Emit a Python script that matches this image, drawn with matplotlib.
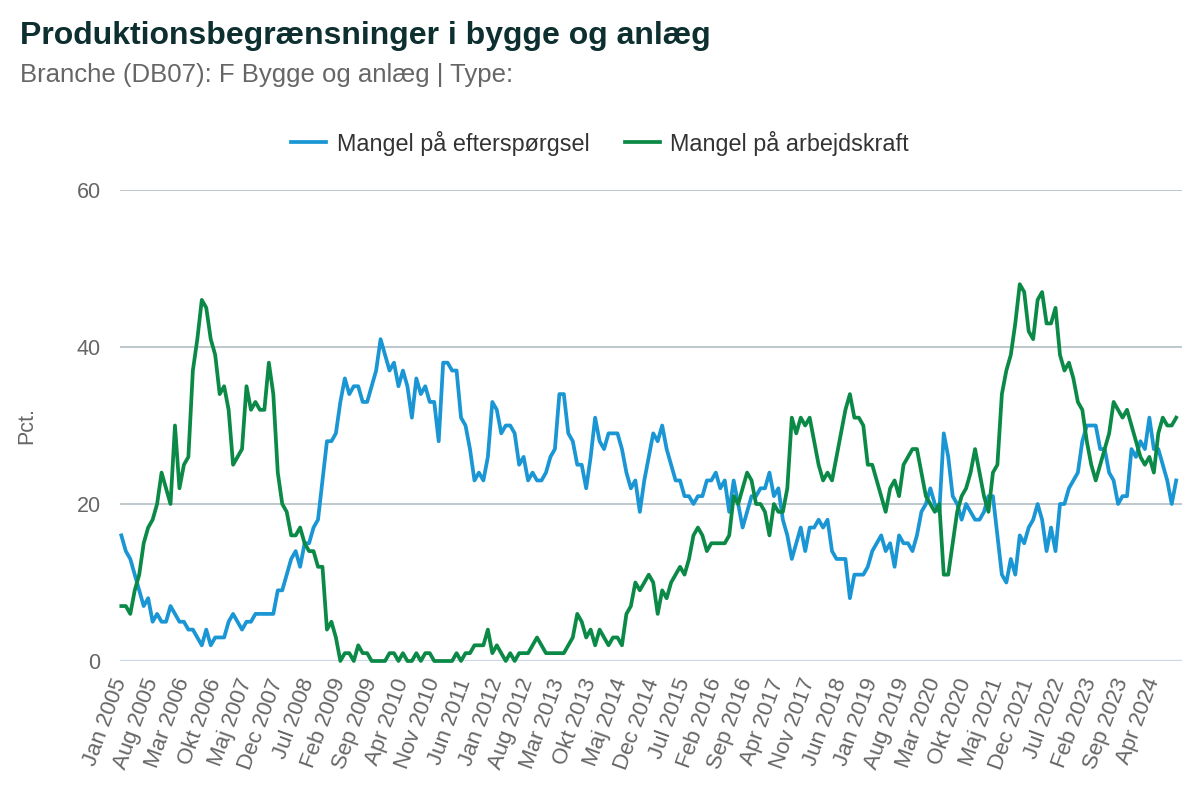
import numpy as np
import matplotlib
matplotlib.use("Agg")
import matplotlib.pyplot as plt

plt.rcParams["font.family"] = ["Liberation Sans", "DejaVu Sans"]

# monthly values, Jan 2005 - Sep 2024 (pct.)
mangel_eftersporgsel = [
    16, 14, 13, 11, 9, 7, 8, 5, 6, 5, 5, 7, 6, 5, 5, 4, 4, 3, 2, 4,
    2, 3, 3, 3, 5, 6, 5, 4, 5, 5, 6, 6, 6, 6, 6, 9, 9, 11, 13, 14,
    12, 15, 15, 17, 18, 23, 28, 28, 29, 33, 36, 34, 35, 35, 33, 33, 35, 37, 41, 39,
    37, 38, 35, 37, 35, 31, 36, 34, 35, 33, 33, 28, 38, 38, 37, 37, 31, 30, 27, 23,
    24,
    23, 26, 33, 32, 29, 30, 30, 29, 25, 26, 23, 24, 23, 23, 24, 26, 27, 34, 34, 29,
    28, 25, 25, 22, 26, 31, 28, 27, 29, 29, 29, 27, 24, 22, 23, 19, 23, 26, 29, 28,
    30, 27, 25, 23, 23, 21, 21, 20, 21, 21, 23, 23, 24, 22, 23, 19, 23, 20, 17, 19,
    21, 21, 22, 22, 24, 21, 22, 18, 16, 13, 15, 17, 14, 17, 17, 18, 17,
    18, 14, 13, 13, 13, 8, 11, 11, 11, 12, 14, 15, 16, 14, 15, 12, 16, 15, 15, 14,
    16, 19, 20, 22, 20, 19, 29, 26, 21, 20, 18, 20, 19, 18, 18, 19, 21, 21,
    16, 11, 10, 13, 11, 16, 15, 17, 18, 20, 18, 14, 17, 14, 20, 20, 22, 23, 24, 28,
    30, 30, 30, 27, 27, 24, 23, 20, 21, 21, 27, 26, 28, 27, 31, 27, 27, 25, 23, 20,
    23,
]
mangel_arbejdskraft = [
    7, 7, 6, 9, 11, 15, 17, 18, 20, 24, 22, 20, 30, 22, 25, 26, 37, 41, 46, 45,
    41, 39, 34, 35, 32, 25, 26, 27, 35, 32, 33, 32, 32, 38, 34, 24, 20, 19, 16, 16,
    17, 15, 14, 14, 12, 12, 4, 5, 3, 0, 1, 1, 0, 2, 1, 1, 0, 0, 0, 0,
    1, 1, 0, 1, 0, 0, 1, 0, 1, 1, 0, 0, 0, 0, 0, 1, 0, 1, 1, 2,
    2,
    2, 4, 1, 2, 1, 0, 1, 0, 1, 1, 1, 2, 3, 2, 1, 1, 1, 1, 1, 2,
    3, 6, 5, 3, 4, 2, 4, 3, 2, 3, 3, 2, 6, 7, 10, 9, 10, 11, 10, 6,
    9, 8, 10, 11, 12, 11, 13, 16, 17, 16, 14, 15, 15, 15, 15, 16, 21, 20, 22, 24,
    23, 20, 20, 19, 16, 20, 19, 19, 22, 31, 29, 31, 30, 31, 28, 25, 23, 24, 23, 26,
    29, 32, 34, 31, 31, 30, 25, 25, 23, 21, 19, 22, 23, 21, 25, 26, 27, 27, 24, 21,
    20, 19, 20, 11, 11, 15, 19, 21, 22, 24, 27, 24, 21, 19, 24,
    25, 34, 37, 39, 43, 48, 47, 42, 41, 46, 47, 43, 43, 45, 39, 37, 38, 36, 33, 32,
    28, 25, 23, 25, 27, 29, 33, 32, 31, 32, 30, 28, 26, 25, 26, 24, 29, 31, 30, 30,
    31,
]
maaneder = ["Jan", "Feb", "Mar", "Apr", "Maj", "Jun",
            "Jul", "Aug", "Sep", "Okt", "Nov", "Dec"]

n = len(mangel_eftersporgsel)
x = np.arange(n)
tick_pos = np.arange(0, n, 7)
tick_lab = [f"{maaneder[i % 12]} {2005 + i // 12}" for i in tick_pos]

BLUE = "#1a96d4"
GREEN = "#0b8a47"
GREY = "#666666"

fig = plt.figure(figsize=(12, 8), dpi=100)
ax = fig.add_axes([0.1, 1 - 661 / 800, 0.885, (661 - 190) / 800])

for v in (20, 40, 60):
    ax.axhline(v, color="#b3bfc4", lw=1.2, zorder=1)
ax.axhline(0, color="#ccd6eb", lw=1.6, zorder=1)

ax.plot(x, mangel_eftersporgsel, color=BLUE, lw=2.7, label="Mangel på efterspørgsel",
        zorder=3, clip_on=False, solid_joinstyle="round")
ax.plot(x, mangel_arbejdskraft, color=GREEN, lw=2.7, label="Mangel på arbejdskraft",
        zorder=3, clip_on=False, solid_joinstyle="round")

ax.set_xlim(-0.3, n + 0.3)
ax.set_ylim(0, 60)
ax.set_yticks([0, 20, 40, 60])
ax.set_xticks(tick_pos)
ax.set_xticklabels(tick_lab, rotation=70, ha="right", va="center",
                   rotation_mode="anchor")
ax.tick_params(axis="both", length=0, colors=GREY)
ax.tick_params(axis="y", pad=14, labelsize=15.5)
ax.tick_params(axis="x", pad=13, labelsize=16)
for s in ax.spines.values():
    s.set_visible(False)

ax.set_ylabel("Pct.", fontsize=15.5, color=GREY)
ax.yaxis.set_label_coords(-0.078, 0.5)

fig.text(20 / 1200, 1 - 44 / 800, "Produktionsbegrænsninger i bygge og anlæg",
         fontsize=23, fontweight="bold", color="#0d2f30", va="baseline")
fig.text(20 / 1200, 1 - 82 / 800, "Branche (DB07): F Bygge og anlæg | Type:",
         fontsize=18.5, color=GREY, va="baseline")

fig.legend(loc="center", bbox_to_anchor=(0.5, 1 - 143 / 800), ncol=2,
           frameon=False, fontsize=16.8, handlelength=1.5, handletextpad=0.45,
           columnspacing=1.5, labelcolor="#333333")

fig.savefig("out.png", dpi=100)
